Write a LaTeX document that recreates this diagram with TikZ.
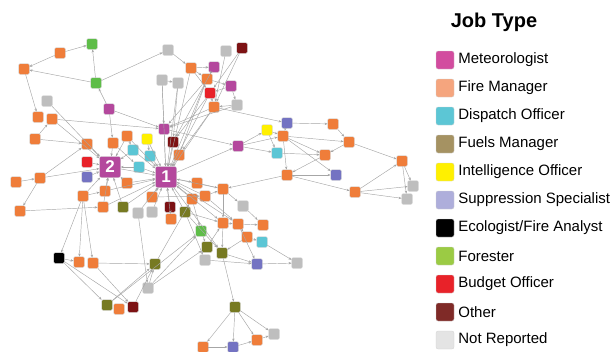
\documentclass[tikz,border=0pt]{standalone}
\usepackage{fontspec}
\setmainfont{Liberation Sans}
\usetikzlibrary{positioning, arrows.meta}
\definecolor{cMet}{HTML}{B4489D}
\definecolor{cFire}{HTML}{EF7D3A}
\definecolor{cDisp}{HTML}{5CC6D5}
\definecolor{cFuel}{HTML}{777A22}
\definecolor{cIntel}{HTML}{FFF000}
\definecolor{cSupp}{HTML}{7473C2}
\definecolor{cFor}{HTML}{5EBD48}
\definecolor{cBud}{HTML}{E82229}
\definecolor{cOth}{HTML}{7D1214}
\definecolor{cNR}{HTML}{BEBEBE}
\definecolor{lMet}{HTML}{D24C9F}
\definecolor{lFire}{HTML}{F5A57E}
\definecolor{lFuel}{HTML}{A59262}
\definecolor{lSupp}{HTML}{AEAEDB}
\definecolor{lFor}{HTML}{9BCB44}
\definecolor{lOth}{HTML}{7F2A27}
\definecolor{lNR}{HTML}{E4E4E4}
\begin{document}
\begin{tikzpicture}[x=1pt, y=-1pt,
    jn/.style = {draw=gray!45, line width=0.3pt, rounded corners=1.2pt, minimum size=10.5pt, inner sep=0pt},
    meteo/.style = {jn, fill=cMet}, fire/.style = {jn, fill=cFire}, dispatch/.style = {jn, fill=cDisp},
    fuels/.style = {jn, fill=cFuel}, intel/.style = {jn, fill=cIntel}, suppr/.style = {jn, fill=cSupp},
    ecol/.style = {jn, fill=black}, forest/.style = {jn, fill=cFor}, budget/.style = {jn, fill=cBud},
    other/.style = {jn, fill=cOth}, norep/.style = {jn, fill=cNR},
    hub/.style = {meteo, minimum size=21pt, rounded corners=2pt, text=white, font=\bfseries\fontsize{17}{17}\selectfont},
    link/.style = {draw=gray!70, line width=0.45pt, -{Stealth[length=3pt, width=2.4pt]}},
    swatch/.style = {draw=gray!35, line width=0.3pt, rounded corners=2pt, minimum size=18pt, inner sep=0pt},
    kind/.style = {right=4pt of #1, inner sep=0pt, font=\fontsize{15}{15}\selectfont}]
\useasboundingbox (0,0) rectangle (615,351);
% job nodes, upper left
\node[forest] (fA) at (92,44) {};
\node[fire] (oB) at (60,53) {};
\node[fire] (oC) at (24,69) {};
\node[norep] (gD) at (168,50) {};
\node[forest] (fE) at (96,83) {};
\node[norep] (gF) at (47,101) {};
\node[meteo] (mG) at (109,109) {};
\node[fire] (oH) at (38,117) {};
\node[fire] (oI) at (52,119) {};
\node[fire] (oJ) at (35,139) {};
\node[fire] (oK) at (87,144) {};
\node[fire] (oL) at (113,143) {};
\node[fire] (oM) at (127,136) {};
\node[intel] (yN) at (147,139) {};
\node[other] (rO) at (173,142) {};
\node[meteo] (mP) at (164,129) {};
% upper middle
\node[norep] (gQ) at (162,80) {};
\node[norep] (gR) at (178,83) {};
\node[fire] (oS) at (191,68) {};
\node[meteo] (mT) at (214,67) {};
\node[norep] (gU) at (226,51) {};
\node[other] (xV) at (242,48) {};
\node[fire] (oW) at (207,79) {};
\node[meteo] (mX) at (231,86) {};
\node[budget] (bY) at (210,93) {};
\node[norep] (gZ) at (237,105) {};
\node[fire] (o1) at (214,107) {};
\node[fire] (o2) at (179,155) {};
% around the two hubs
\node[dispatch] (c1) at (133,150) {};
\node[dispatch] (c2) at (150,156) {};
\node[dispatch] (c3) at (139,167) {};
\node[budget] (bR) at (87,162) {};
\node[suppr] (sP) at (87,177) {};
\node[hub] (N2) at (110,167) {2};
\node[hub] (N1) at (166,177) {1};
\node[fire] (o3) at (16,182) {};
\node[fire] (o4) at (40,178) {};
\node[fire] (o5) at (127,183) {};
\node[fire] (o6) at (197,183) {};
% right group
\node[meteo] (m2) at (238,146) {};
\node[intel] (y2) at (267,130) {};
\node[suppr] (s2) at (287,123) {};
\node[fire] (o7) at (283,136) {};
\node[dispatch] (c4) at (277,153) {};
\node[fire] (o8) at (325,155) {};
\node[fire] (o9) at (287,175) {};
\node[fire] (o10) at (223,189) {};
\node[fire] (o11) at (333,124) {};
\node[fire] (o12) at (349,142) {};
\node[fire] (o13) at (402,161) {};
\node[suppr] (s3) at (336,175) {};
\node[fire] (o14) at (355,192) {};
\node[norep] (g2) at (413,186) {};
\node[norep] (g3) at (407,199) {};
% lower left
\node[fire] (o15) at (105,191) {};
\node[fire] (o16) at (83,196) {};
\node[fire] (o17) at (152,197) {};
\node[fire] (o18) at (192,199) {};
\node[fire] (o19) at (205,196) {};
\node[fire] (o20) at (20,211) {};
\node[fire] (o21) at (103,207) {};
\node[fuels] (v1) at (123,207) {};
\node[norep] (g4) at (138,213) {};
\node[norep] (g5) at (152,212) {};
\node[other] (x2) at (170,207) {};
\node[fire] (o22) at (171,219) {};
\node[fuels] (v2) at (185,212) {};
\node[ecol] (k1) at (59,258) {};
\node[fire] (o27) at (79,262) {};
\node[fire] (o28) at (93,263) {};
\node[fuels] (v5) at (155,264) {};
\node[norep] (g9) at (148,288) {};
\node[fuels] (v6) at (107,305) {};
\node[fire] (o29) at (119,309) {};
\node[other] (x3) at (133,307) {};
% lower middle
\node[norep] (g6) at (243,206) {};
\node[fire] (o23) at (223,223) {};
\node[fire] (o24) at (238,224) {};
\node[fire] (o25) at (263,225) {};
\node[forest] (f2) at (201,231) {};
\node[fire] (o26) at (247,237) {};
\node[dispatch] (c5) at (262,242) {};
\node[fuels] (v3) at (207,247) {};
\node[fuels] (v4) at (222,253) {};
\node[norep] (g7) at (205,260) {};
\node[suppr] (s4) at (257,264) {};
\node[norep] (g8) at (297,263) {};
\node[fuels] (v7) at (235,307) {};
\node[norep] (g10) at (274,334) {};
\node[fire] (o30) at (257,340) {};
\node[fire] (o31) at (203,347) {};
\node[suppr] (s5) at (233,347) {};
% ties
\foreach \a/\b in {oB/fA, oB/oC, fE/oC, fE/fA, fE/gD, mG/fE, oC/oH, gF/N2, oI/N2, oJ/oI, oI/mP,
    mG/oL, mG/mP, oJ/oK, oK/N2, oL/N2, oM/N2, oM/N1, yN/N1, c1/N1, c1/N2, c2/N1, c3/N1, c3/N2,
    bR/N2, sP/N2, N2/N1, oL/c3, oM/c1, yN/c2, mP/N1, rO/N1, o2/N1, gQ/N1, gR/N1, gQ/gR, gQ/mP,
    gR/rO, oS/N1, oW/N1, bY/N1, o1/N1, oW/mP, bY/rO, o1/o2, o1/mP, gU/o1, xV/o1, xV/bY, oS/mT,
    mT/oW, oS/oW, oS/bY, oW/mX, mX/bY, mX/gZ, gZ/o1, bY/o1, gD/oS, gZ/mP, mT/rO, oW/o2,
    mP/m2, N1/m2, m2/y2, m2/o7, m2/c4, o1/s2, y2/o7, y2/c4, s2/o11, s2/o7, o7/o12, o7/o8, o7/o9,
    o7/s3, c4/o8, o11/o12, o12/o8, o12/o13, o8/o9, o9/s3, o9/o14, o14/o13, o14/g2, o14/g3,
    o13/g2, o13/g3, o9/o10, o6/o10, N1/o6,
    o3/o4, o4/N2, o4/o20, o20/o21, o21/N1, o21/N2, o15/N2, o16/N2, o16/o15, o16/o27, o16/o28,
    o16/k1, k1/o27, k1/v6, k1/x3, o28/v5, o28/x3, v6/v5, x3/v5, g9/v5, g4/g9, v6/f2, g9/f2,
    o5/N1, o5/N2, o15/N1, o17/N1, v1/N1, v1/N2, g4/N1, g5/N1, x2/N1, o22/N1, v2/N1, o18/N1,
    o19/N1, o10/N1, o4/oK,
    o10/o23, o19/o10, o18/f2, v2/o23, o23/o24, o24/o26, o24/o25, g6/o25, o10/g6, o26/c5,
    o26/v4, o23/v4, f2/v3, v3/o23, v4/s4, g7/s4, s4/g8, c5/g8, o24/s4, v4/v7, v7/g10, v7/o30,
    v7/s5, v7/o31, o30/g10, s5/o30, o31/s5, v2/g7, v5/o18, g9/v3, x2/o22, v2/v4, o19/o24,
    N1/o23, N1/v4, N1/o24, o17/o19}
  \draw[link] (\a) -- (\b);
% legend
\node[font=\bfseries\fontsize{20}{20}\selectfont] (title) at (494,22) {Job Type};
\node[swatch, fill=lMet] (k01) at (445,60) {};
\node[swatch, fill=lFire, below=9.7pt of k01] (k02) {};
\node[swatch, fill=cDisp, below=9.7pt of k02] (k03) {};
\node[swatch, fill=lFuel, below=9.7pt of k03] (k04) {};
\node[swatch, fill=cIntel, below=9.7pt of k04] (k05) {};
\node[swatch, fill=lSupp, below=9.7pt of k05] (k06) {};
\node[swatch, fill=black, below=9.7pt of k06] (k07) {};
\node[swatch, fill=lFor, below=9.7pt of k07] (k08) {};
\node[swatch, fill=cBud, below=9.7pt of k08] (k09) {};
\node[swatch, fill=lOth, below=9.7pt of k09] (k10) {};
\node[swatch, fill=lNR, below=9.7pt of k10] (k11) {};
\node[kind=k01] {Meteorologist};
\node[kind=k02] {Fire Manager};
\node[kind=k03] {Dispatch Officer};
\node[kind=k04] {Fuels Manager};
\node[kind=k05] {Intelligence Officer};
\node[kind=k06] {Suppression Specialist};
\node[kind=k07] {Ecologist/Fire Analyst};
\node[kind=k08] {Forester};
\node[kind=k09] {Budget Officer};
\node[kind=k10] {Other};
\node[kind=k11] {Not Reported};
\end{tikzpicture}
\end{document}
